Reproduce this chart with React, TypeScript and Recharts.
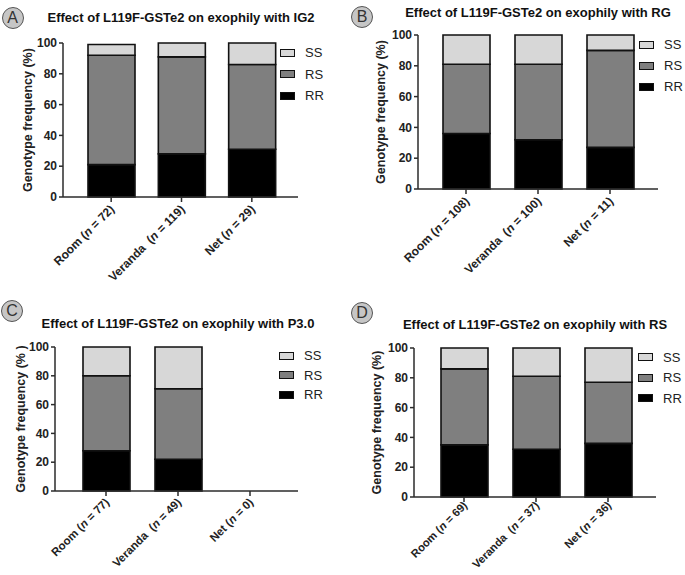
import React from 'react';
import { BarChart, Bar, XAxis, YAxis, Legend } from 'recharts';

// categories shared by all four panels
const sites = ['Room', 'Veranda', 'Net'];
const genotypes = ['SS', 'RS', 'RR'];
const yTicks = [0, 20, 40, 60, 80, 100];

// A: IG2
const nIG2 = [72, 119, 29];
const rrIG2 = [21, 28, 31];
const rsIG2 = [71, 63, 55];
const ssIG2 = [7, 9, 14];

// B: RG
const nRG = [108, 100, 11];
const rrRG = [36, 32, 27];
const rsRG = [45, 49, 63];
const ssRG = [19, 19, 10];

// C: P3.0
const nP3 = [77, 49, 0];
const rrP3 = [28, 22, 0];
const rsP3 = [52, 49, 0];
const ssP3 = [20, 29, 0];

// D: RS
const nRS = [69, 37, 36];
const rrRS = [35, 32, 36];
const rsRS = [51, 49, 41];
const ssRS = [14, 19, 23];

const FILL: Record<string, string> = { RR: '#000000', RS: '#7f7f7f', SS: '#d7d7d7' };
const AXIS = '#2b2b2b';
const FONT = '"Liberation Sans", Arial, sans-serif';

const buildRows = (n: number[], rr: number[], rs: number[], ss: number[]) =>
  sites.map((site, i) => ({ site, n: n[i], RR: rr[i], RS: rs[i], SS: ss[i] }));

interface PanelProps {
  rows: { site: string; n: number; RR: number; RS: number; SS: number }[];
  left: number;
  top: number;
  width: number;
  height: number;
  axisW: number;
  mTop: number;
  mRight: number;
  mBottom: number;
  padL: number;
  padR: number;
  legendLeft: number;
  legendTop: number;
  rowH: number;
  title: string;
  titleX: number;
  titleY: number;
  letter: string;
  circleX: number;
  circleY: number;
  yLabel: string;
  yLabelOff: number;
  tickFs?: number;
  tickDy?: number;
}

// rotated category label with italic n
const SiteTick = (props: any) => {
  const { x, y, payload, rows, fs = 12, dy = 6 } = props;
  const row = rows.find((r: any) => r.site === payload.value);
  if (!row) return null;
  const gap = row.site === 'Veranda' ? '  ' : ' ';
  return (
    <g transform={`translate(${x + 4},${y + dy})`}>
      <text
        transform="rotate(-45)"
        textAnchor="end"
        fontSize={fs}
        fontWeight="bold"
        fill="#222"
        style={{ whiteSpace: 'pre' }}
      >
        {`${row.site}${gap}(`}
        <tspan fontStyle="italic">n</tspan>
        {` = ${row.n})`}
      </text>
    </g>
  );
};

const GenoLegend = ({ rowH }: { rowH: number }) => (
  <div style={{ fontFamily: FONT }}>
    {genotypes.map((g) => (
      <div key={g} style={{ display: 'flex', alignItems: 'center', height: rowH }}>
        <span
          style={{
            display: 'inline-block',
            width: 15,
            height: 8,
            boxSizing: 'border-box',
            background: FILL[g],
            border: '1.5px solid #111',
          }}
        />
        <span style={{ marginLeft: 10, fontSize: 13, color: '#222' }}>{g}</span>
      </div>
    ))}
  </div>
);

const Panel = (p: PanelProps) => {
  const yLabelContent = (lp: any) => {
    const vb = lp.viewBox || {};
    const cx = vb.x + vb.width - p.yLabelOff;
    const cy = vb.y + vb.height / 2;
    return (
      <text
        x={cx}
        y={cy}
        transform={`rotate(-90, ${cx}, ${cy})`}
        textAnchor="middle"
        dominantBaseline="central"
        fontSize={12.5}
        fontWeight="bold"
        fill="#222"
        style={{ whiteSpace: 'pre' }}
      >
        {p.yLabel}
      </text>
    );
  };

  return (
    <>
      <div style={{ position: 'absolute', left: p.left, top: p.top }}>
        <BarChart
          width={p.width}
          height={p.height}
          data={p.rows}
          margin={{ top: p.mTop, right: p.mRight, bottom: p.mBottom - 70, left: 0 }}
          barSize={47}
        >
          <XAxis
            dataKey="site"
            height={70}
            interval={0}
            padding={{ left: p.padL, right: p.padR }}
            axisLine={{ stroke: AXIS, strokeWidth: 1.5 }}
            tickLine={{ stroke: AXIS, strokeWidth: 1.5 }}
            tickSize={5}
            tick={<SiteTick rows={p.rows} fs={p.tickFs} dy={p.tickDy} />}
          />
          <YAxis
            width={p.axisW}
            domain={[0, 100]}
            ticks={yTicks}
            interval={0}
            axisLine={{ stroke: AXIS, strokeWidth: 1.5 }}
            tickLine={{ stroke: AXIS, strokeWidth: 1.5 }}
            tickSize={4}
            tickMargin={2}
            tick={{ fontSize: 12, fontWeight: 'bold', fill: '#222' }}
            label={{ content: yLabelContent }}
          />
          <Legend
            layout="vertical"
            align="center"
            verticalAlign="middle"
            wrapperStyle={{ left: p.legendLeft, top: p.legendTop, width: 'auto' }}
            content={() => <GenoLegend rowH={p.rowH} />}
          />
          <Bar dataKey="RR" stackId="g" fill={FILL.RR} stroke="#111" strokeWidth={1.6} isAnimationActive={false} />
          <Bar dataKey="RS" stackId="g" fill={FILL.RS} stroke="#111" strokeWidth={1.6} isAnimationActive={false} />
          <Bar dataKey="SS" stackId="g" fill={FILL.SS} stroke="#111" strokeWidth={1.6} isAnimationActive={false} />
        </BarChart>
      </div>
      <div
        style={{
          position: 'absolute',
          left: p.titleX - 200,
          top: p.titleY - 8,
          width: 400,
          textAlign: 'center',
          fontSize: 13,
          lineHeight: '16px',
          fontWeight: 'bold',
          color: '#111',
          whiteSpace: 'nowrap',
        }}
      >
        {p.title}
      </div>
      <div
        style={{
          position: 'absolute',
          left: p.circleX - 11,
          top: p.circleY - 11,
          width: 22,
          height: 22,
          boxSizing: 'border-box',
          borderRadius: '50%',
          background: '#c6c6c6',
          border: '1px solid #555',
          display: 'flex',
          alignItems: 'center',
          justifyContent: 'center',
          fontSize: 16,
          color: '#333',
        }}
      >
        {p.letter}
      </div>
    </>
  );
};

export default function App() {
  return (
    <div
      style={{
        position: 'absolute',
        left: 0,
        top: 0,
        width: 685,
        height: 575,
        background: '#fff',
        overflow: 'hidden',
        fontFamily: FONT,
      }}
    >
      <Panel
        rows={buildRows(nIG2, rrIG2, rsIG2, ssIG2)}
        left={0} top={0} width={342} height={287}
        axisW={63} mTop={43} mRight={44} mBottom={90}
        padL={13} padR={11}
        legendLeft={280} legendTop={42} rowH={21.5}
        title="Effect of L119F-GSTe2 on exophily with IG2" titleX={181} titleY={18}
        letter="A" circleX={12.5} circleY={18}
        yLabel="Genotype frequency (%)" yLabelOff={35}
      />
      <Panel
        rows={buildRows(nRG, rrRG, rsRG, ssRG)}
        left={342} top={0} width={343} height={287}
        axisW={76} mTop={35} mRight={27} mBottom={98}
        padL={12} padR={12}
        legendLeft={297} legendTop={34} rowH={21}
        title="Effect of L119F-GSTe2 on exophily with RG" titleX={538} titleY={12.5}
        letter="B" circleX={362} circleY={16.5}
        yLabel="Genotype frequency (%)" yLabelOff={37}
      />
      <Panel
        rows={buildRows(nP3, rrP3, rsP3, ssP3)}
        left={0} top={287} width={342} height={288}
        axisW={55} mTop={60} mRight={44} mBottom={84}
        padL={15} padR={12}
        legendLeft={279} legendTop={59} rowH={19.5}
        title="Effect of L119F-GSTe2 on exophily with P3.0" titleX={178} titleY={324}
        letter="C" circleX={12} circleY={311}
        yLabel="Genotype frequency (% )" yLabelOff={34}
        tickFs={11.5} tickDy={5}
      />
      <Panel
        rows={buildRows(nRS, rrRS, rsRS, ssRS)}
        left={342} top={287} width={343} height={288}
        axisW={72} mTop={61} mRight={29} mBottom={78}
        padL={14} padR={12}
        legendLeft={296} legendTop={60} rowH={20.5}
        title="Effect of L119F-GSTe2 on exophily with RS" titleX={535} titleY={325}
        letter="D" circleX={362} circleY={313}
        yLabel="Genotype frequency (%)" yLabelOff={37}
        tickFs={11.2} tickDy={2}
      />
    </div>
  );
}
